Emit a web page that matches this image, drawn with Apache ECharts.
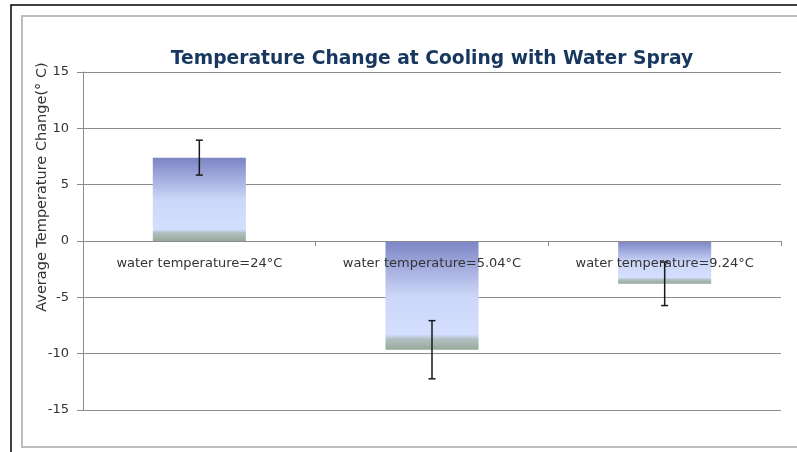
<!DOCTYPE html>
<html>
<head>
<meta charset="utf-8">
<script src="https://cdn.jsdelivr.net/npm/echarts@6/dist/echarts.min.js"></script>
<style>
  html, body { margin: 0; padding: 0; background: #fff; }
  #chart { width: 797px; height: 452px; }
</style>
</head>
<body>
<div id="chart"></div>
<script>
// data
var categories = ["water temperature=24°C", "water temperature=5.04°C", "water temperature=9.24°C"];
var meanChange = [7.4, -9.65, -3.8];
var errorSize = [1.55, 2.58, 1.93];
var yTicks = { min: -15, max: 15, step: 5 };

var chart = echarts.init(document.getElementById("chart"));

// bar fill like the old office gradient: bluish top, pale middle, greenish foot
var barFill = new echarts.graphic.LinearGradient(0, 0, 0, 1, [
  { offset: 0, color: "#7c84c4" },
  { offset: 0.5, color: "#ccd6f8" },
  { offset: 0.86, color: "#d4defe" },
  { offset: 0.9, color: "#b2c0c4" },
  { offset: 1, color: "#98a898" }
]);

var errData = meanChange.map(function (v, i) {
  return [i, v - errorSize[i], v + errorSize[i]];
});

chart.setOption({
  animation: false,
  backgroundColor: "#fff",
  title: {
    text: "Temperature Change at Cooling with Water Spray",
    left: 427,
    top: 45,
    textAlign: "center",
    textStyle: {
      color: "#17375e",
      fontFamily: "DejaVu Sans",
      fontWeight: "bold",
      fontSize: 18.7
    }
  },
  graphic: [
    {
      type: "rect",
      silent: true,
      shape: { x: 11, y: 5, width: 800, height: 470 },
      style: { fill: null, stroke: "#000", lineWidth: 1.5 }
    },
    {
      type: "rect",
      silent: true,
      shape: { x: 22, y: 16, width: 790, height: 431 },
      style: { fill: null, stroke: "#bdbdbd", lineWidth: 2 }
    },
    {
      type: "text",
      silent: true,
      x: 42,
      y: 187,
      rotation: Math.PI / 2,
      style: {
        text: "Average Temperature Change(° C)",
        fill: "#333",
        font: "14.5px DejaVu Sans",
        align: "center",
        verticalAlign: "middle"
      }
    }
  ],
  grid: { left: 83, right: 16, top: 72, bottom: 42 },
  xAxis: {
    type: "category",
    data: categories,
    z: 10,
    axisLine: { onZero: true, lineStyle: { color: "#8c8c8c" } },
    axisTick: { show: true, length: 5, lineStyle: { color: "#8c8c8c" } },
    axisLabel: {
      // labels sit just under the zero line, not at the grid bottom
      margin: -153,
      color: "#333",
      fontFamily: "DejaVu Sans",
      fontSize: 13
    },
    splitLine: { show: false }
  },
  yAxis: {
    type: "value",
    min: yTicks.min,
    max: yTicks.max,
    interval: yTicks.step,
    axisLine: { show: true, lineStyle: { color: "#8c8c8c" } },
    axisTick: { show: true, length: 6, lineStyle: { color: "#8c8c8c" } },
    axisLabel: {
      margin: 14,
      color: "#333",
      fontFamily: "DejaVu Sans",
      fontSize: 13
    },
    splitLine: { lineStyle: { color: "#8c8c8c" } }
  },
  series: [
    {
      type: "bar",
      data: meanChange,
      barWidth: "40%",
      itemStyle: { color: barFill }
    },
    {
      type: "custom",
      z: 12,
      data: errData,
      renderItem: function (params, api) {
        var x = api.value(0);
        var lo = api.coord([x, api.value(1)]);
        var hi = api.coord([x, api.value(2)]);
        var cap = 3.5;
        var st = { stroke: "#1a1a1a", lineWidth: 1.5 };
        return {
          type: "group",
          children: [
            { type: "line", shape: { x1: lo[0], y1: lo[1], x2: hi[0], y2: hi[1] }, style: st },
            { type: "line", shape: { x1: lo[0] - cap, y1: lo[1], x2: lo[0] + cap, y2: lo[1] }, style: st },
            { type: "line", shape: { x1: hi[0] - cap, y1: hi[1], x2: hi[0] + cap, y2: hi[1] }, style: st }
          ]
        };
      }
    }
  ]
});
</script>
</body>
</html>
